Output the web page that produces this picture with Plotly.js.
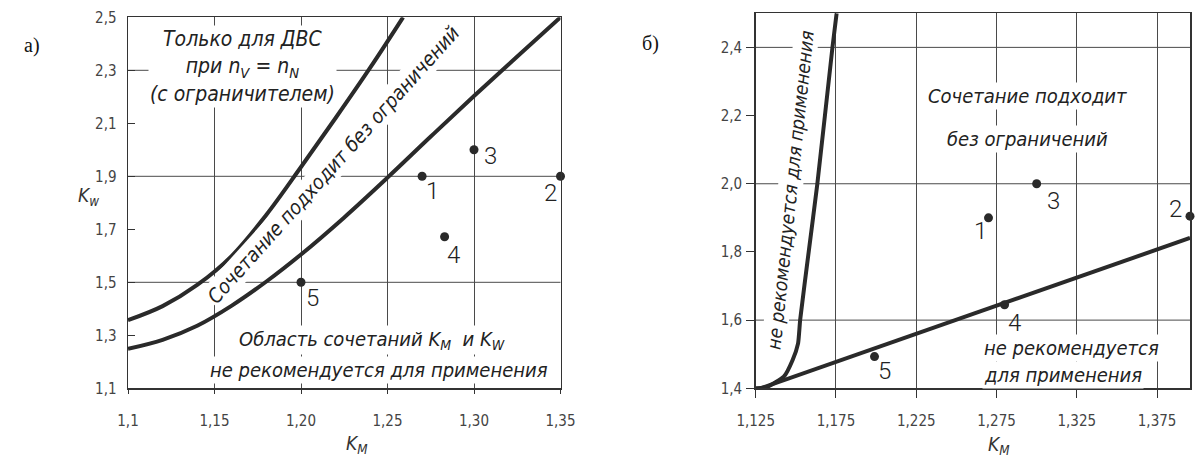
<!DOCTYPE html>
<html>
<head>
<meta charset="utf-8">
<script src="https://cdn.plot.ly/plotly-3.0.1.min.js"></script>
<style>
html,body{margin:0;padding:0;background:#fff;}
#chart{width:1195px;height:461px;}
</style>
</head>
<body>
<div id="chart"></div>
<script>
// ---------- Data: chart а) ----------
const upperAx = [1.100, 1.120, 1.140, 1.160, 1.180, 1.200, 1.220, 1.240, 1.259];
const upperAy = [1.357, 1.410, 1.490, 1.600, 1.755, 1.935, 2.120, 2.310, 2.500];
const lowerAx = [1.100, 1.120, 1.140, 1.160, 1.180, 1.200, 1.225, 1.250, 1.275, 1.300, 1.325, 1.350];
const lowerAy = [1.249, 1.283, 1.336, 1.412, 1.503, 1.605, 1.745, 1.895, 2.050, 2.203, 2.352, 2.500];
const kmA = [1.270, 1.350, 1.300, 1.283, 1.200];
const kwA = [1.900, 1.900, 2.000, 1.672, 1.500];

// ---------- Data: chart б) ----------
const steepBx = [1.125, 1.132, 1.1425, 1.148, 1.1514, 1.1527, 1.158, 1.1634, 1.1728, 1.1754];
const steepBy = [1.400, 1.404, 1.434, 1.483, 1.532, 1.601, 1.800, 2.000, 2.400, 2.500];
const lineBx = [1.128, 1.3955];
const lineBy = [1.400, 1.841];
const kmB = [1.270, 1.3955, 1.300, 1.280, 1.199];
const kwB = [1.900, 1.905, 2.000, 1.645, 1.493];

const pointLabels = ['1', '2', '3', '4', '5'];

// ---------- Ticks ----------
const xTickValsA = [1.10, 1.15, 1.20, 1.25, 1.30, 1.35];
const xTickTextA = ['1,1', '1,15', '1,20', '1,25', '1,30', '1,35'];
const yTickValsA = [1.1, 1.3, 1.5, 1.7, 1.9, 2.1, 2.3, 2.5];
const yTickTextA = ['1,1', '1,3', '1,5', '1,7', '1,9', '2,1', '2,3', '2,5'];
const yGridA = [1.5, 1.9, 2.3];

const xTickValsB = [1.125, 1.175, 1.225, 1.275, 1.325, 1.375];
const xTickTextB = ['1,125', '1,175', '1,225', '1,275', '1,325', '1,375'];
const yTickValsB = [1.4, 1.6, 1.8, 2.0, 2.2, 2.4];
const yTickTextB = ['1,4', '1,6', '1,8', '2,0', '2,2', '2,4'];
const yGridB = [1.6, 2.0, 2.4];

// label offsets (px) relative to each point
const labelShiftA = [[10, -15], [-10, -17], [16, -6], [9, -18], [11, -16]];
const labelShiftB = [[-8, -13], [-15, 7], [17, -17], [10, -18], [10, -14]];

// ---------- Styles ----------
const INK = '#2a2a2a';
const GRID = '#4a4a4a';
const GOST = 'Liberation Sans Narrow, DejaVu Sans Condensed, Roboto, sans-serif';
const TICKFONT = {family: 'Liberation Sans Narrow, DejaVu Sans Condensed, Roboto, sans-serif', size: 15, color: '#444'};
const curve = {color: INK, width: 4};

const traces = [
  {x: upperAx, y: upperAy, mode: 'lines', line: Object.assign({shape: 'spline', smoothing: 1}, curve), xaxis: 'x', yaxis: 'y', hoverinfo: 'skip'},
  {x: lowerAx, y: lowerAy, mode: 'lines', line: Object.assign({shape: 'spline', smoothing: 1}, curve), xaxis: 'x', yaxis: 'y', hoverinfo: 'skip'},
  {x: kmA, y: kwA, mode: 'markers', marker: {size: 9, color: INK}, xaxis: 'x', yaxis: 'y', cliponaxis: false},
  {x: steepBx, y: steepBy, mode: 'lines', line: Object.assign({shape: 'spline', smoothing: 0.5}, curve), xaxis: 'x2', yaxis: 'y2', hoverinfo: 'skip'},
  {x: lineBx, y: lineBy, mode: 'lines', line: curve, xaxis: 'x2', yaxis: 'y2', hoverinfo: 'skip'},
  {x: kmB, y: kwB, mode: 'markers', marker: {size: 9, color: INK}, xaxis: 'x2', yaxis: 'y2', cliponaxis: false}
];

function axisBase() {
  return {
    showline: true, linecolor: '#333', linewidth: 1.5, mirror: true,
    zeroline: false, tickmode: 'array', tickfont: TICKFONT,
    gridcolor: GRID, gridwidth: 1, tickcolor: '#333', tickwidth: 1
  };
}

const W = 1195, H = 461;
const layout = {
  width: W, height: H,
  margin: {l: 0, r: 0, t: 0, b: 0},
  paper_bgcolor: '#fff', plot_bgcolor: '#fff',
  showlegend: false,
  xaxis: Object.assign(axisBase(), {
    domain: [128 / W, 560.5 / W], range: [1.1, 1.35],
    tickvals: xTickValsA, ticktext: xTickTextA,
    showgrid: true, ticks: 'outside', ticklen: 4, ticklabelstandoff: 14, anchor: 'y'
  }),
  yaxis: Object.assign(axisBase(), {
    domain: [1 - 388.3 / H, 1 - 17.3 / H], range: [1.1, 2.5],
    tickvals: yTickValsA, ticktext: yTickTextA,
    showgrid: false, ticks: 'inside', ticklen: 7, ticklabelstandoff: 7, anchor: 'x'
  }),
  xaxis2: Object.assign(axisBase(), {
    domain: [755.7 / W, 1190 / W], range: [1.125, 1.3955],
    tickvals: xTickValsB, ticktext: xTickTextB,
    showgrid: true, ticks: 'outside', ticklen: 8, ticklabelstandoff: 10, anchor: 'y2'
  }),
  yaxis2: Object.assign(axisBase(), {
    domain: [1 - 388.3 / H, 1 - 13.3 / H], range: [1.4, 2.5],
    tickvals: yTickValsB, ticktext: yTickTextB,
    showgrid: false, ticks: 'outside', ticklen: 8, ticklabelstandoff: 1, anchor: 'x2'
  }),
  shapes: [],
  annotations: []
};

yGridA.forEach(v => layout.shapes.push({type: 'line', layer: 'below', xref: 'x domain', x0: 0, x1: 1, yref: 'y', y0: v, y1: v, line: {color: GRID, width: 1}}));
yGridB.forEach(v => layout.shapes.push({type: 'line', layer: 'below', xref: 'x2 domain', x0: 0, x1: 1, yref: 'y2', y0: v, y1: v, line: {color: GRID, width: 1}}));

const italic = (size) => ({family: GOST, size: size, color: '#222', style: 'italic'});
const A = layout.annotations;
function txt(xref, yref, x, y, text, size, extra) {
  A.push(Object.assign({xref: xref, yref: yref, x: x, y: y, text: text, showarrow: false,
    font: italic(size), bgcolor: '#fff', borderpad: 1}, extra || {}));
}

// chart а) texts
txt('x', 'y', 1.1659, 2.316, 'Только для ДВС<br>при n<sub>V</sub> = n<sub>N</sub><br>(с ограничителем)', 21);
txt('x', 'y', 1.2185, 1.943, 'Сочетание подходит без ограничений', 20, {textangle: -48});
txt('x', 'y', 1.241, 1.282, 'Область сочетаний K<sub>M</sub>  и K<sub>W</sub>', 20);
txt('x', 'y', 1.2451, 1.169, 'не рекомендуется для применения', 20);

// chart б) texts
txt('x2', 'y2', 1.2945, 2.258, 'Сочетание подходит', 20);
txt('x2', 'y2', 1.2941, 2.130, 'без ограничений', 20);
txt('x2', 'y2', 1.266, 1.5176, 'не рекомендуется', 20, {xanchor: 'left'});
txt('x2', 'y2', 1.266, 1.4391, 'для применения', 20, {xanchor: 'left'});
txt('x2', 'y2', 1.1462, 1.983, 'не рекомендуется для применения', 19, {textangle: -84});

// point labels
const numFont = {family: 'Roboto, DejaVu Sans, sans-serif', size: 24, color: '#222', weight: 300};
kmA.forEach((v, i) => A.push({xref: 'x', yref: 'y', x: v, y: kwA[i], text: pointLabels[i], showarrow: false,
  xshift: labelShiftA[i][0], yshift: labelShiftA[i][1], font: numFont}));
kmB.forEach((v, i) => A.push({xref: 'x2', yref: 'y2', x: v, y: kwB[i], text: pointLabels[i], showarrow: false,
  xshift: labelShiftB[i][0], yshift: labelShiftB[i][1], font: numFont}));

// axis titles and panel letters
const axT = {family: GOST, size: 19, color: '#333', style: 'italic'};
A.push({xref: 'paper', yref: 'paper', x: 76 / W, y: 1 - 197 / H, text: 'K<sub>w</sub>', showarrow: false, font: axT});
A.push({xref: 'paper', yref: 'paper', x: 344 / W, y: 1 - 444 / H, yanchor: 'middle', text: 'K<sub>M</sub>', showarrow: false, font: axT});
A.push({xref: 'paper', yref: 'paper', x: 1012 / W, y: 1 - 445 / H, yanchor: 'middle', text: 'K<sub>M</sub>', showarrow: false, font: axT});
const serif = {family: 'Liberation Serif, DejaVu Serif, serif', size: 20, color: '#111'};
A.push({xref: 'paper', yref: 'paper', x: 22 / W, y: 1 - 32 / H, text: 'а)', showarrow: false, font: serif});
A.push({xref: 'paper', yref: 'paper', x: 650 / W, y: 1 - 30 / H, text: 'б)', showarrow: false, font: serif});

Plotly.newPlot('chart', traces, layout, {displayModeBar: false, staticPlot: true});
</script>
</body>
</html>
